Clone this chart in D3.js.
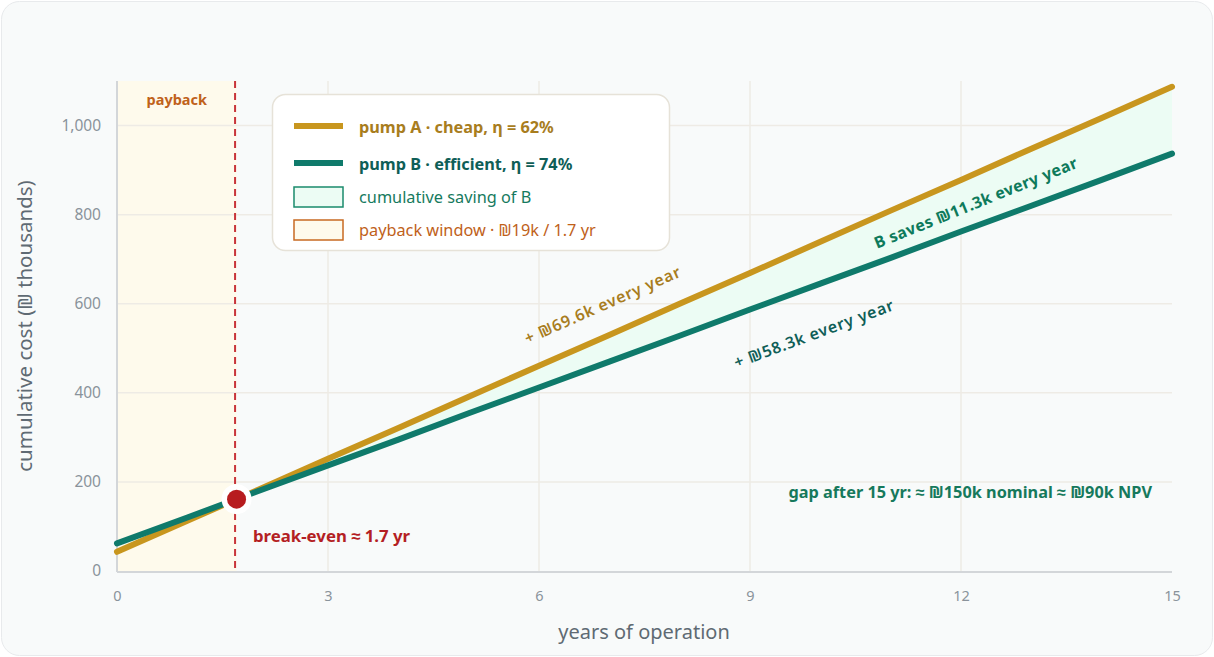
<!DOCTYPE html>
<html><head><meta charset="utf-8">
<script src="https://cdn.jsdelivr.net/npm/d3@7"></script>
<style>
html,body{margin:0;padding:0;background:#ffffff;}
svg{display:block;font-family:"Noto Sans",sans-serif;}
</style></head>
<body>
<svg id="chart" width="1214" height="657"></svg>
<script>
// ---- data ----
const years = [0,1,2,3,4,5,6,7,8,9,10,11,12,13,14,15];
const pumpA = [43,113,182,252,321,391,461,530,600,669,739,809,878,948,1017,1087];
const pumpB = [62,120,179,237,295,354,412,470,528,587,645,703,762,820,878,937];
const xTicks = [0,3,6,9,12,15];
const yTicks = [0,200,400,600,800,1000];
const paybackYears = 1.7;
const legendLabels = ["pump A · cheap, η = 62%","pump B · efficient, η = 74%","cumulative saving of B","payback window · ₪19k / 1.7 yr"];
const slopeLabels = ["+ ₪69.6k every year","+ ₪58.3k every year","B saves ₪11.3k every year"];
const gapLabel = "gap after 15 yr: ≈ ₪150k nominal ≈ ₪90k NPV";
const breakLabel = "break-even ≈ 1.7 yr";

const colA = "#c8961e", colB = "#0f7a6b";
const svg = d3.select("#chart");
const W = 1214, H = 657;
const m = {left:117, right:1172, top:81, bottom:571};

svg.append("rect").attr("x",1.5).attr("y",1.5).attr("width",W-3).attr("height",H-3)
  .attr("rx",18).attr("fill","#f8fafa").attr("stroke","#e8eaec");

const x = d3.scaleLinear().domain([0,15]).range([m.left,m.right]);
const y = d3.scaleLinear().domain([0,1100]).range([m.bottom,m.top]);

// payback band
svg.append("rect").attr("x",x(0)).attr("y",m.top).attr("width",x(paybackYears)-x(0))
  .attr("height",m.bottom-m.top).attr("fill","#fefaec");

// grid
svg.append("g").selectAll("line").data(xTicks.filter(d=>d>0 && d<15)).join("line")
  .attr("x1",d=>x(d)).attr("x2",d=>x(d)).attr("y1",m.top).attr("y2",m.bottom)
  .attr("stroke","#eeebe5").attr("stroke-width",1.5);
svg.append("g").selectAll("line").data(yTicks.filter(d=>d>0)).join("line")
  .attr("x1",m.left).attr("x2",m.right).attr("y1",d=>y(d)).attr("y2",d=>y(d))
  .attr("stroke","#eeebe5").attr("stroke-width",1.5);

// break-even from data
let be = null, beV = null;
for (let i=0;i<years.length-1;i++){
  const d0 = pumpA[i]-pumpB[i], d1 = pumpA[i+1]-pumpB[i+1];
  if (d0<=0 && d1>0){
    const t = -d0/(d1-d0);
    be = years[i]+t*(years[i+1]-years[i]);
    beV = pumpA[i]+t*(pumpA[i+1]-pumpA[i]);
    break;
  }
}
const areaPts = [{x:be,a:beV,b:beV}].concat(years.map((yr,i)=>({x:yr,a:pumpA[i],b:pumpB[i]})).filter(d=>d.x>be));
svg.append("path").datum(areaPts)
  .attr("d",d3.area().x(d=>x(d.x)).y0(d=>y(d.b)).y1(d=>y(d.a)))
  .attr("fill","#ecfcf4");

// axes
const yAxis = svg.append("g").attr("transform",`translate(${m.left},0)`)
  .call(d3.axisLeft(y).tickValues(yTicks).tickSize(0).tickPadding(16).tickFormat(d3.format(",")));
yAxis.select(".domain").remove();
yAxis.selectAll("text").attr("fill","#8a939b").attr("font-size",15.5).attr("font-family","Noto Sans");
const xAxis = svg.append("g").attr("transform",`translate(0,${m.bottom})`)
  .call(d3.axisBottom(x).tickValues(xTicks).tickSize(0).tickPadding(20).tickFormat(d3.format("d")));
xAxis.select(".domain").remove();
xAxis.selectAll("text").attr("fill","#8a939b").attr("font-size",14.5).attr("font-family","Noto Sans");
svg.append("line").attr("x1",m.left).attr("x2",m.left).attr("y1",m.top).attr("y2",m.bottom+1)
  .attr("stroke","#d3d6d9").attr("stroke-width",2);
svg.append("line").attr("x1",m.left).attr("x2",m.right).attr("y1",m.bottom+1).attr("y2",m.bottom+1)
  .attr("stroke","#d3d6d9").attr("stroke-width",2);

// axis titles
svg.append("text").attr("transform",`translate(32,${(m.top+m.bottom)/2}) rotate(-90)`)
  .attr("text-anchor","middle").attr("font-size",20.5).attr("fill","#5f6a73")
  .text("cumulative cost (₪ thousands)");
svg.append("text").attr("x",644).attr("y",639).attr("text-anchor","middle")
  .attr("font-size",20).attr("fill","#5f6a73").text("years of operation");

// lines
const line = d3.line().x((d,i)=>x(years[i])).y(d=>y(d));
svg.append("path").datum(pumpA).attr("d",line).attr("fill","none")
  .attr("stroke",colA).attr("stroke-width",6).attr("stroke-linecap","round");
svg.append("path").datum(pumpB).attr("d",line).attr("fill","none")
  .attr("stroke",colB).attr("stroke-width",6).attr("stroke-linecap","round");

// payback dashed line
svg.append("line").attr("x1",x(paybackYears)-1.5).attr("x2",x(paybackYears)-1.5)
  .attr("y1",m.top).attr("y2",m.bottom).attr("stroke","#c8343a").attr("stroke-width",2)
  .attr("stroke-dasharray","7,5");
svg.append("text").attr("x",(x(0)+x(paybackYears))/2).attr("y",105).attr("text-anchor","middle")
  .attr("font-size",14.5).attr("font-weight",700).attr("fill","#c0611a").text("payback");

// break-even dot
svg.append("circle").attr("cx",x(be)).attr("cy",y(beV)).attr("r",15).attr("fill","#ffffff");
svg.append("circle").attr("cx",x(be)).attr("cy",y(beV)).attr("r",9.5).attr("fill","#b71c1f");
svg.append("text").attr("x",253).attr("y",542).attr("font-size",16.8).attr("font-weight",700)
  .attr("fill","#b41f24").text(breakLabel);

// slope labels
function angleOf(arr){
  const dx = x(years[years.length-1])-x(years[0]);
  const dy = y(arr[arr.length-1])-y(arr[0]);
  return Math.atan2(dy,dx)*180/Math.PI;
}
const angA = angleOf(pumpA), angB = angleOf(pumpB);
svg.append("text").attr("transform",`translate(605,310) rotate(${angA})`).attr("text-anchor","middle")
  .attr("font-size",16).attr("font-weight",600).attr("letter-spacing",0.8).attr("fill","#a87d1e").text(slopeLabels[0]);
svg.append("text").attr("transform",`translate(816,339) rotate(${angB})`).attr("text-anchor","middle")
  .attr("font-size",16).attr("font-weight",600).attr("letter-spacing",0.8).attr("fill","#0f5e57").text(slopeLabels[1]);
svg.append("text").attr("transform",`translate(978,208) rotate(${(angA+angB)/2})`).attr("text-anchor","middle")
  .attr("font-size",16).attr("font-weight",700).attr("letter-spacing",0.4).attr("fill","#0e7a5b").text(slopeLabels[2]);
svg.append("text").attr("x",1152).attr("y",498).attr("text-anchor","end")
  .attr("font-size",16.3).attr("font-weight",700).attr("fill","#16795c").text(gapLabel);

// legend
const lg = svg.append("g");
lg.append("rect").attr("x",272.5).attr("y",94.5).attr("width",397).attr("height",156).attr("rx",13)
  .attr("fill","#ffffff").attr("stroke","#e6e2d8").attr("stroke-width",1.5);
lg.append("line").attr("x1",294).attr("x2",343).attr("y1",126).attr("y2",126).attr("stroke",colA).attr("stroke-width",6);
lg.append("line").attr("x1",294).attr("x2",343).attr("y1",163).attr("y2",163).attr("stroke",colB).attr("stroke-width",6);
lg.append("rect").attr("x",294).attr("y",187).attr("width",49).attr("height",20)
  .attr("fill","#ecfcf4").attr("stroke","#1a8b6c").attr("stroke-width",1.5);
lg.append("rect").attr("x",294).attr("y",220).attr("width",49).attr("height",20)
  .attr("fill","#fefaec").attr("stroke","#c86a22").attr("stroke-width",1.5);
const lt = [
  {y:133, c:"#a87d1e", w:700},
  {y:170, c:"#0f5e57", w:700},
  {y:203, c:"#167a5e", w:400},
  {y:236, c:"#c0611a", w:400}
];
lg.selectAll("text.l").data(legendLabels).join("text").attr("class","l")
  .attr("x",359).attr("y",(d,i)=>lt[i].y).attr("font-size",16.3)
  .attr("font-weight",(d,i)=>lt[i].w).attr("fill",(d,i)=>lt[i].c).text(d=>d);
</script>
</body></html>
